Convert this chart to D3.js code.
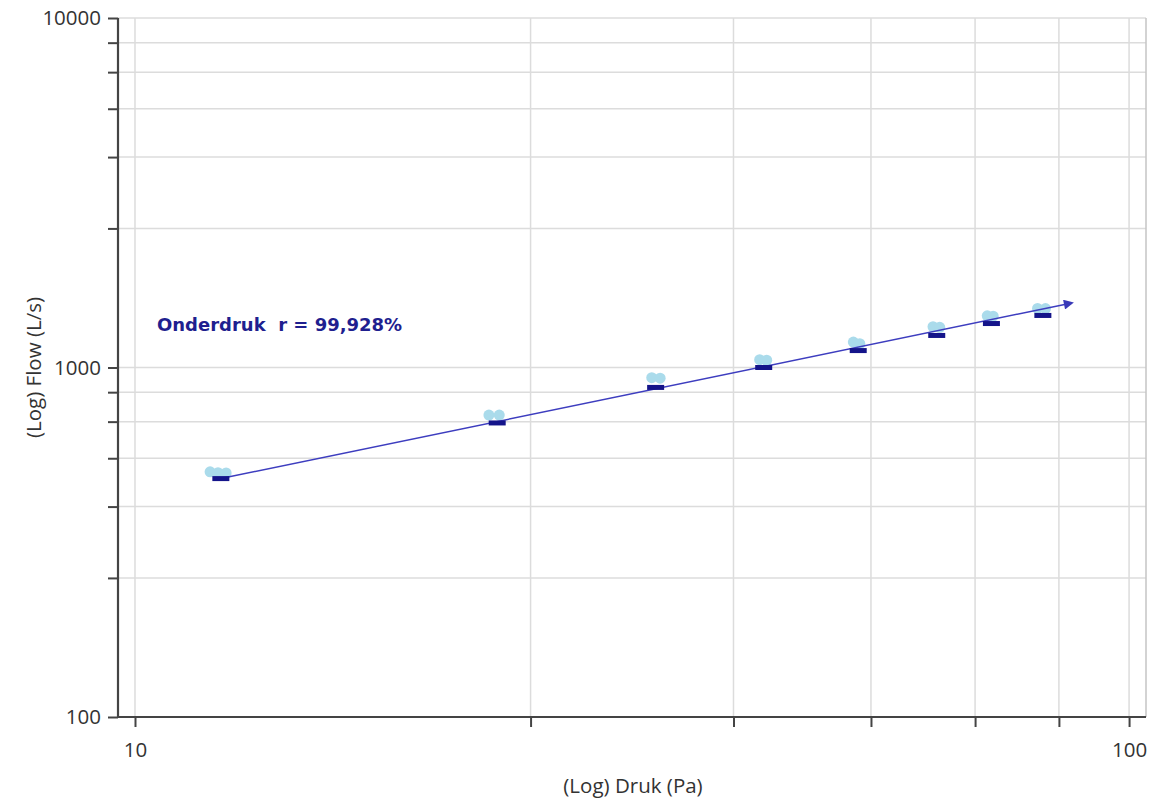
<!DOCTYPE html>
<html>
<head>
<meta charset="utf-8">
<script src="https://cdn.jsdelivr.net/npm/d3@7"></script>
<style>
  html, body { margin: 0; padding: 0; background: #fff; }
  svg { display: block; }
</style>
</head>
<body>
<svg id="chart" width="1155" height="803"></svg>
<script>
// ---- data ----
const levelPressure = [12.2, 23.14, 33.4, 42.9, 53.4, 64.05, 72.7, 81.9];   // Pa (fitted points)
const levelFlow     = [481, 694, 877, 1000, 1118, 1235, 1336, 1409];         // L/s

const measPressure = [11.9, 12.12, 12.35, 22.7, 23.25, 33.1, 33.75, 42.5, 43.2,
                      52.8, 53.6, 63.5, 64.5, 72.0, 73.0, 80.9, 82.4];
const measFlow     = [503, 500, 499, 731, 731, 935, 932, 1053, 1049,
                      1182, 1170, 1308, 1303, 1406, 1402, 1476, 1474];

const trendPressure = [12.2, 87.6];
const trendFlow     = [481, 1530];

const xTicks = [10, 25, 40, 55, 70, 85, 100];
const xTickLabels = ["10", "", "", "", "", "", "100"];
const yTicks = [100, 250, 400, 550, 700, 850, 1000, 2500, 4000, 5500, 7000, 8500, 10000];
const yTickLabels = ["100", "", "", "", "", "", "1000", "", "", "", "", "", "10000"];

const annotation = "Onderdruk  r = 99,928%";
const xTitle = "(Log) Druk (Pa)";
const yTitle = "(Log) Flow (L/s)";

// ---- layout ----
const svg = d3.select("#chart");
const pLeft = 118, pRight = 1146, pTop = 18, pBottom = 717;

const x = d3.scaleLog().domain([9.614, 104.0]).range([pLeft, pRight]);
const y = d3.scaleLog().domain([100, 10000]).range([pBottom, pTop]);

const font = "'Open Sans', 'Noto Sans', sans-serif";

// grid
const grid = svg.append("g");
grid.selectAll("line.vx").data(xTicks).enter().append("line")
  .attr("x1", d => x(d)).attr("x2", d => x(d))
  .attr("y1", pTop).attr("y2", pBottom)
  .attr("stroke", "#dcdcdc").attr("stroke-width", 1.5);
grid.selectAll("line.hy").data(yTicks).enter().append("line")
  .attr("x1", pLeft).attr("x2", pRight)
  .attr("y1", d => y(d)).attr("y2", d => y(d))
  .attr("stroke", "#dcdcdc").attr("stroke-width", 1.5);
// frame right
svg.append("line").attr("x1", pRight).attr("x2", pRight).attr("y1", pTop).attr("y2", pBottom)
  .attr("stroke", "#c4c4c4").attr("stroke-width", 1.5);

// axes
const xAxis = d3.axisBottom(x).tickValues(xTicks)
  .tickFormat((d, i) => xTickLabels[i]).tickSize(10).tickSizeOuter(0);
const gx = svg.append("g").attr("transform", `translate(0,${pBottom})`).call(xAxis);
gx.select(".domain").attr("d", `M${pLeft - 1},0H${pRight}`).attr("stroke", "#444").attr("stroke-width", 2.2);
gx.selectAll(".tick line").attr("stroke", "#444").attr("stroke-width", 2);
gx.selectAll(".tick text").attr("font-family", font).attr("font-size", 20.5).attr("fill", "#333").attr("dy", "1.3em");

const yAxis = d3.axisLeft(y).tickValues(yTicks)
  .tickFormat((d, i) => yTickLabels[i]).tickSize(10).tickSizeOuter(0);
const gy = svg.append("g").attr("transform", `translate(${pLeft},0)`).call(yAxis);
gy.select(".domain").attr("d", `M0,${pTop}V${pBottom + 1}`).attr("stroke", "#444").attr("stroke-width", 2.2);
gy.selectAll(".tick line").attr("stroke", "#444").attr("stroke-width", 2);
gy.selectAll(".tick text").attr("font-family", font).attr("font-size", 20.5).attr("fill", "#333").attr("x", -17);

// titles
svg.append("text").attr("x", 633).attr("y", 793)
  .attr("text-anchor", "middle").attr("font-family", font).attr("font-size", 20.5).attr("fill", "#333")
  .text(xTitle);
svg.append("text").attr("transform", `translate(41,${(pTop + pBottom) / 2}) rotate(-90)`)
  .attr("text-anchor", "middle").attr("font-family", font).attr("font-size", 20.5).attr("fill", "#333")
  .text(yTitle);

// measured points
svg.append("g").selectAll("circle").data(measPressure).enter().append("circle")
  .attr("cx", (d, i) => x(d)).attr("cy", (d, i) => y(measFlow[i]))
  .attr("r", 5.5).attr("fill", "#aadbeb");

// trend line with arrow
const defs = svg.append("defs");
defs.append("marker").attr("id", "arrow").attr("viewBox", "0 0 10 10")
  .attr("refX", 8).attr("refY", 5).attr("markerWidth", 11).attr("markerHeight", 10)
  .attr("markerUnits", "userSpaceOnUse").attr("orient", "auto")
  .append("path").attr("d", "M0,0L10,5L0,10Z").attr("fill", "#3a3ab8");
const line = d3.line().x(d => x(d[0])).y(d => y(d[1]));
svg.append("path").datum(trendPressure.map((p, i) => [p, trendFlow[i]]))
  .attr("d", line).attr("fill", "none").attr("stroke", "#3d3dbf").attr("stroke-width", 1.5)
  .attr("marker-end", "url(#arrow)");

// fitted level markers
svg.append("g").selectAll("rect").data(levelPressure).enter().append("rect")
  .attr("x", d => x(d) - 8.5).attr("y", (d, i) => y(levelFlow[i]) - 2.5)
  .attr("width", 17).attr("height", 5).attr("fill", "#14148a");

// annotation
svg.append("text").attr("x", 157).attr("y", 331)
  .attr("font-family", "'DejaVu Sans', Verdana, sans-serif").attr("font-weight", "bold")
  .attr("font-size", 18).attr("fill", "#1f1f8f")
  .style("white-space", "pre")
  .text(annotation);
</script>
</body>
</html>
